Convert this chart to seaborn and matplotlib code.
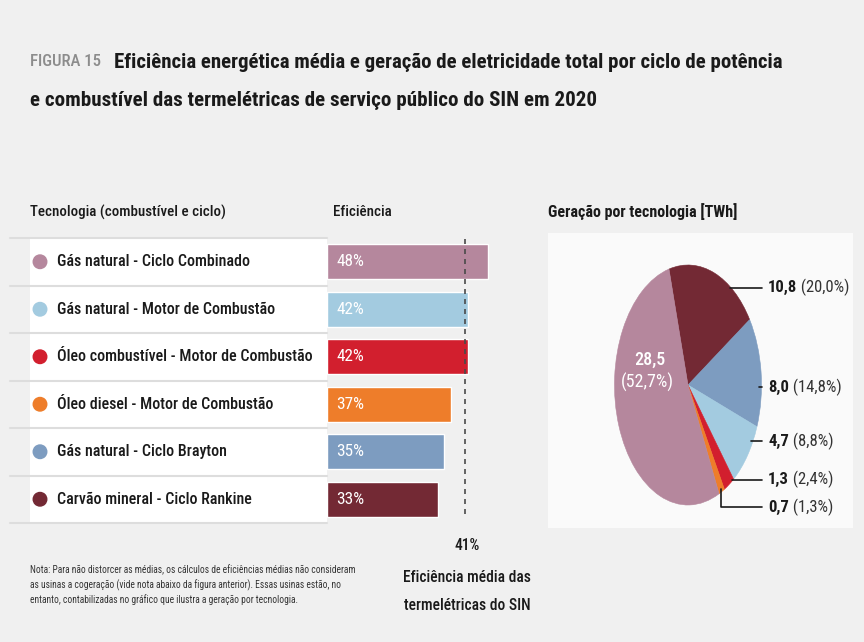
import numpy as np
import pandas as pd
import matplotlib
matplotlib.use('Agg')
import matplotlib.pyplot as plt
import seaborn as sns
from matplotlib import font_manager as fm
from matplotlib.patches import Rectangle
from matplotlib.text import Text

# ── Dados ───────────────────────────────────────────────────────────────────
tecnologias = [
    'Gás natural - Ciclo Combinado',
    'Gás natural - Motor de Combustão',
    'Óleo combustível - Motor de Combustão',
    'Óleo diesel - Motor de Combustão',
    'Gás natural - Ciclo Brayton',
    'Carvão mineral - Ciclo Rankine',
]
eficiencia = [48, 42, 42, 37, 35, 33]
cores = ['#b5879d', '#a3cbe0', '#d21f2e', '#ee7d2a', '#7d9cc0', '#732934']
eficiencia_media = 41

pie_tecnologias = [
    'Carvão mineral - Ciclo Rankine',
    'Gás natural - Ciclo Brayton',
    'Gás natural - Motor de Combustão',
    'Óleo combustível - Motor de Combustão',
    'Óleo diesel - Motor de Combustão',
    'Gás natural - Ciclo Combinado',
]
geracao_twh = [10.8, 8.0, 4.7, 1.3, 0.7, 28.5]
geracao_pct = [20.0, 14.8, 8.8, 2.4, 1.3, 52.7]

titulo_1 = 'Eficiência energética média e geração de eletricidade total por ciclo de potência'
titulo_2 = 'e combustível das termelétricas de serviço público do SIN em 2020'
nota = ['Nota: Para não distorcer as médias, os cálculos de eficiências médias não consideram',
        'as usinas a cogeração (vide nota abaixo da figura anterior). Essas usinas estão, no',
        'entanto, contabilizadas no gráfico que ilustra a geração por tecnologia.']

# ── Estilo ──────────────────────────────────────────────────────────────────
sns.set_theme(style='white')
installed = {f.name for f in fm.fontManager.ttflist}
pref = ['Roboto Condensed', 'Noto Sans Condensed', 'Liberation Sans Narrow',
        'DejaVu Sans Condensed', 'Open Sans Condensed']
FONT = next((f for f in pref if f in installed), None)
STRETCH = 'normal'
if FONT is None:
    cond = [f for f in fm.fontManager.ttflist
            if str(f.stretch) in ('condensed', 'semi-condensed', 'extra-condensed')]
    if cond:
        FONT, STRETCH = cond[0].name, cond[0].stretch
    else:
        FONT = 'Roboto'
plt.rcParams['font.family'] = [FONT, 'DejaVu Sans']
plt.rcParams['font.stretch'] = STRETCH

BG = '#f0f0f0'
INK = '#1a1a1a'
W, H = 864, 642


def fmt(v):
    return f'{v:.1f}'.replace('.', ',')


def px(x0, y0, x1, y1):
    # caixa em pixels (origem no topo) -> retângulo da figura
    return [x0 / W, 1 - y1 / H, (x1 - x0) / W, (y1 - y0) / H]


fig = plt.figure(figsize=(8.64, 6.42), dpi=100, facecolor=BG)
renderer = fig.canvas.get_renderer()


def width(a):
    # só a caixa do texto (sem a seta de uma anotação)
    return Text.get_window_extent(a, renderer).width


def fit(artists, target):
    # ajusta o corpo da fonte para a largura medida na referência
    w = max(width(a) for a in artists)
    for a in artists:
        a.set_fontsize(a.get_fontsize() * target / w)


# camada de fundo em coordenadas de pixel
bg = fig.add_axes([0, 0, 1, 1])
bg.set_xlim(0, W)
bg.set_ylim(H, 0)
bg.axis('off')
bg.add_patch(Rectangle((548, 233), 305, 295, fc='#fafafa', ec='none'))

# título
t0 = bg.text(30, 62, 'FIGURA 15', fontsize=12, color='#8c8c8c', va='center', ha='left',
             fontweight='medium')
fit([t0], 71)
t1 = bg.annotate(titulo_1, xy=(1, 0.5), xycoords=t0, xytext=(9, 0),
                 textcoords='offset points', va='center', ha='left',
                 fontsize=13.5, fontweight='bold', color=INK)
fit([t1], 672)
t2 = bg.text(30, 100, titulo_2, fontsize=13.5, fontweight='bold', color=INK, va='center')
fit([t2], 567)

# cabeçalhos
h1 = bg.text(30, 212, 'Tecnologia (combustível e ciclo)', fontsize=10.5, color=INK,
             va='center', fontweight='medium')
h2 = bg.text(333, 212, 'Eficiência', fontsize=10.5, color=INK, va='center',
             fontweight='medium')
h3 = bg.text(548, 212, 'Geração por tecnologia [TWh]', fontsize=10.5, color=INK,
             va='center', fontweight='bold')
fit([h1], 197)
h2.set_fontsize(h1.get_fontsize())
fit([h3], 189)

# nota
notas = [bg.text(30, 570 + 15 * i, linha, fontsize=6.8, color='#333333', va='center')
         for i, linha in enumerate(nota)]
fit(notas, 329)

# média
med = [bg.text(467, 545, f'{eficiencia_media}%', fontsize=11.5, color=INK, ha='center',
               va='center', fontweight='medium'),
       bg.text(467, 577, 'Eficiência média das', fontsize=11.5, color=INK, ha='center',
               va='center', fontweight='medium'),
       bg.text(467, 605, 'termelétricas do SIN', fontsize=11.5, color=INK, ha='center',
               va='center', fontweight='medium')]
fit(med, 128)

# ── Tabela de tecnologias ───────────────────────────────────────────────────
n = len(tecnologias)
ax_tab = fig.add_axes(px(30, 238, 327, 523))
ax_tab.set_facecolor('white')
ax_tab.set_xlim(0, 297)
ax_tab.set_ylim(n - 0.5, -0.5)
for s in ax_tab.spines.values():
    s.set_visible(False)
ax_tab.set_xticks([])
ax_tab.set_yticks([])
for k in range(n + 1):
    ax_tab.plot([-20, 297], [k - 0.5, k - 0.5], color='#dddddd', lw=1.5, clip_on=False)
ax_tab.scatter([10] * n, range(n), s=95, c=cores, zorder=3)
rows = [ax_tab.text(27, i, nome, fontsize=11, color=INK, va='center', fontweight='medium')
        for i, nome in enumerate(tecnologias)]
fit(rows, 256)

# ── Barras de eficiência ────────────────────────────────────────────────────
scale = (488 - 327) / 48
ax_bar = fig.add_axes(px(327, 238, 327 + 50 * scale, 523))
ax_bar.patch.set_alpha(0)
df = pd.DataFrame({'tecnologia': tecnologias, 'eficiencia': eficiencia})
sns.barplot(data=df, x='eficiencia', y='tecnologia', hue='tecnologia',
            palette=dict(zip(tecnologias, cores)), orient='h', width=0.73,
            saturation=1, legend=False, ax=ax_bar)
ax_bar.set_xlim(0, 50)
ax_bar.set_ylim(n - 0.5, -0.5)
ax_bar.axvline(eficiencia_media, ymin=0.03, ymax=1, color='#4a4a4a', lw=1.2,
               ls=(0, (3, 3)), zorder=5)
blabels = [ax_bar.annotate(f'{v}%', xy=(0, i), xytext=(6.5, 0), textcoords='offset points',
                           color='white', fontsize=11, va='center', ha='left')
           for i, v in enumerate(eficiencia)]
fit(blabels[:1], 28)
for b in blabels[1:]:
    b.set_fontsize(blabels[0].get_fontsize())
ax_bar.set_xlabel('')
ax_bar.set_ylabel('')
ax_bar.set_xticks([])
ax_bar.set_yticks([])
for s in ax_bar.spines.values():
    s.set_visible(False)

# ── Pizza de geração ────────────────────────────────────────────────────────
pie_cores = [cores[tecnologias.index(t)] for t in pie_tecnologias]
ax_pie = fig.add_axes(px(614.5, 265, 761.5, 505))
wedges, _ = ax_pie.pie(geracao_twh, colors=pie_cores, startangle=105, counterclock=False,
                       radius=1, wedgeprops=dict(linewidth=0.4))
for w in wedges:
    w.set_edgecolor(w.get_facecolor())
ax_pie.set_aspect('auto')
ax_pie.set_xlim(-1, 1)
ax_pie.set_ylim(-1, 1)

label_y = [0.81, -0.02, -0.47, -0.79, -1.02]
nums, pcts = [], []
for k, y in enumerate(label_y):
    w = wedges[k]
    if abs(y) < 0.97:
        ax_, ay = 0.97 * np.sqrt(1 - y ** 2), y
    else:
        mid = np.deg2rad((w.theta1 + w.theta2) / 2)
        ax_, ay = 0.98 * np.cos(mid), 0.98 * np.sin(mid)
    num = ax_pie.annotate(fmt(geracao_twh[k]), xy=(ax_, ay), xytext=(1.09, y),
                          ha='left', va='center', fontsize=11, fontweight='bold', color=INK,
                          annotation_clip=False,
                          arrowprops=dict(arrowstyle='-', color=INK, lw=1.2, shrinkA=2,
                                          shrinkB=0,
                                          connectionstyle='angle,angleA=0,angleB=90,rad=0'))
    pct = ax_pie.annotate(f' ({fmt(geracao_pct[k])}%)', xy=(1, 0.5),
                          xycoords=lambda r, a=num: Text.get_window_extent(a, r),
                          ha='left', va='center', fontsize=11, color='#333333')
    nums.append(num)
    pcts.append(pct)
wl = width(nums[0]) + width(pcts[0])
for a in nums + pcts:
    a.set_fontsize(a.get_fontsize() * 82 / wl)

c1 = ax_pie.text(-0.52, 0.21, fmt(geracao_twh[-1]), color='white', fontsize=13,
                 fontweight='medium', ha='center', va='center')
c2 = ax_pie.text(-0.55, 0.02, f'({fmt(geracao_pct[-1])}%)', color='white', fontsize=13,
                 ha='center', va='center')

fig.savefig('out.png', dpi=100, facecolor=BG)
